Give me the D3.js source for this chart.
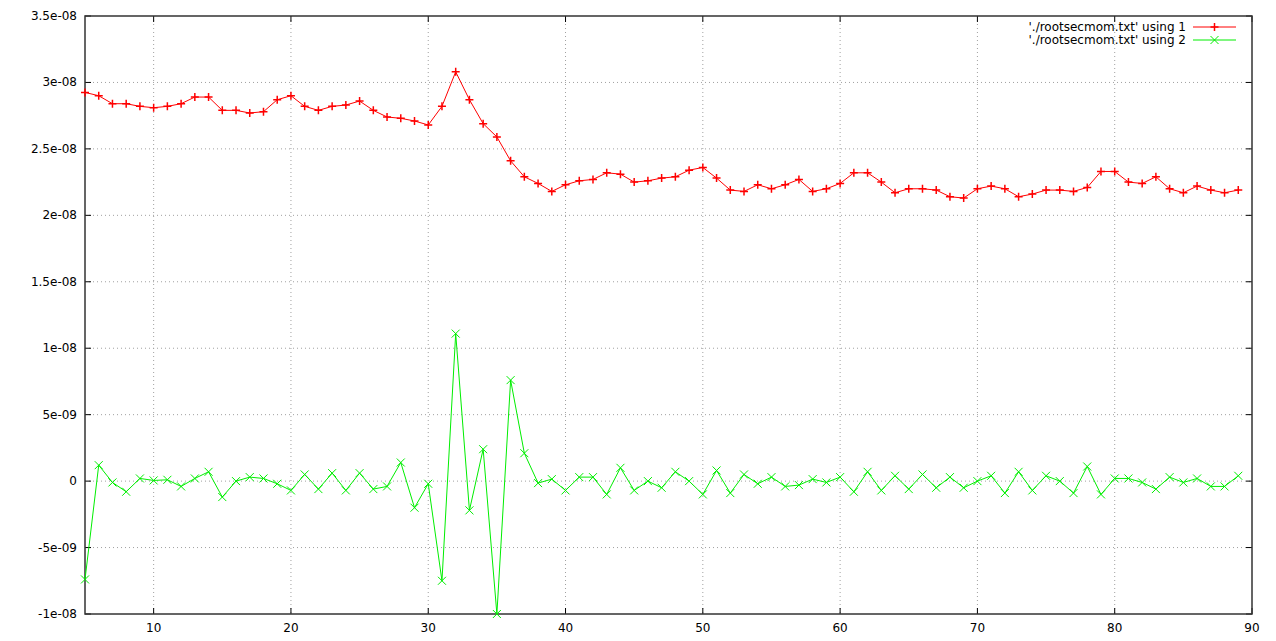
<!DOCTYPE html>
<html><head><meta charset="utf-8">
<script src="https://cdn.jsdelivr.net/npm/d3@7"></script>
<style>body{margin:0;background:#fff}svg{display:block}text{font-family:"DejaVu Sans",sans-serif;font-size:12px;fill:#000}</style>
</head><body><svg id="c" width="1276" height="641"></svg>
<script>
const xStart = 5;
const series1 = [2.925,2.90,2.84,2.84,2.82,2.81,2.82,2.84,2.89,2.89,2.79,2.79,2.77,2.78,2.87,2.90,2.82,2.79,2.82,2.83,2.86,2.79,2.74,2.73,2.71,2.68,2.82,3.08,2.87,2.69,2.59,2.41,2.29,2.24,2.18,2.23,2.26,2.27,2.32,2.31,2.25,2.26,2.28,2.29,2.34,2.36,2.28,2.19,2.18,2.23,2.20,2.23,2.27,2.18,2.20,2.24,2.32,2.32,2.25,2.17,2.20,2.20,2.19,2.14,2.13,2.20,2.22,2.20,2.14,2.16,2.19,2.19,2.18,2.21,2.33,2.33,2.25,2.24,2.29,2.20,2.17,2.22,2.19,2.17,2.19];
const series2 = [-0.74,0.12,-0.01,-0.08,0.02,0.005,0.01,-0.04,0.02,0.07,-0.12,0,0.03,0.02,-0.02,-0.07,0.05,-0.06,0.06,-0.07,0.06,-0.06,-0.04,0.14,-0.20,-0.02,-0.75,1.11,-0.22,0.24,-1.0,0.76,0.21,-0.015,0.015,-0.07,0.03,0.03,-0.10,0.10,-0.07,0,-0.05,0.07,0,-0.10,0.08,-0.09,0.05,-0.02,0.03,-0.04,-0.03,0.015,-0.01,0.03,-0.08,0.07,-0.07,0.04,-0.06,0.05,-0.05,0.03,-0.05,0,0.04,-0.09,0.07,-0.07,0.04,0,-0.09,0.11,-0.10,0.02,0.02,-0.01,-0.06,0.03,-0.01,0.02,-0.04,-0.04,0.04];
const seriesNames = ["'./rootsecmom.txt' using 1","'./rootsecmom.txt' using 2"];
const xTicks = [10,20,30,40,50,60,70,80,90];
const yTicks = [-1e-8,-5e-9,0,5e-9,1e-8,1.5e-8,2e-8,2.5e-8,3e-8,3.5e-8];
const yTickLabels = ["-1e-08","-5e-09","0","5e-09","1e-08","1.5e-08","2e-08","2.5e-08","3e-08","3.5e-08"];

const svg = d3.select("#c");
const L=85,R=1252,T=16,B=614;
const x = d3.scaleLinear().domain([5,90]).range([L,R]);
const y = d3.scaleLinear().domain([-1e-8,3.5e-8]).range([B,T]);
const g = svg.append("g");
xTicks.forEach(t=>{ if(t<90) g.append("line").attr("x1",x(t)).attr("x2",x(t)).attr("y1",T).attr("y2",B).attr("stroke","#a0a0a0").attr("stroke-dasharray","1,3"); });
yTicks.forEach(t=>{ if(t>-1e-8 && t<3.5e-8) g.append("line").attr("x1",L).attr("x2",R).attr("y1",y(t)).attr("y2",y(t)).attr("stroke","#a0a0a0").attr("stroke-dasharray","1,3"); });
xTicks.forEach(t=>{ g.append("line").attr("x1",x(t)).attr("x2",x(t)).attr("y1",B).attr("y2",B-6).attr("stroke","#000");
  g.append("line").attr("x1",x(t)).attr("x2",x(t)).attr("y1",T).attr("y2",T+6).attr("stroke","#000");
  g.append("text").attr("x",x(t)).attr("y",B+18).attr("text-anchor","middle").text(t); });
yTicks.forEach((t,i)=>{ g.append("line").attr("x1",L).attr("x2",L+6).attr("y1",y(t)).attr("y2",y(t)).attr("stroke","#000");
  g.append("line").attr("x1",R).attr("x2",R-6).attr("y1",y(t)).attr("y2",y(t)).attr("stroke","#000");
  g.append("text").attr("x",L-8).attr("y",y(t)+4).attr("text-anchor","end").text(yTickLabels[i]); });
g.append("rect").attr("x",L).attr("y",T).attr("width",R-L).attr("height",B-T).attr("fill","none").attr("stroke","#333").attr("stroke-width",1.5);

const colors=["#ff0000","#00ee00"];
const mk1=(s,px,py)=>s.append("path").attr("d",`M${px-4},${py}H${px+4}M${px},${py-4}V${py+4}`).attr("stroke-width",1.5);
const mk2=(s,px,py)=>s.append("path").attr("d",`M${px-4},${py-4}L${px+4},${py+4}M${px-4},${py+4}L${px+4},${py-4}`);
const mks=[mk1,mk2];
[series1,series2].forEach((s,k)=>{
  const pts=s.map((v,i)=>[x(xStart+i),y(v*1e-8)]);
  const sg=svg.append("g").attr("stroke",colors[k]).attr("fill","none");
  sg.append("path").attr("d",d3.line()(pts)).attr("stroke-width",1);
  pts.forEach(p=>mks[k](sg,p[0],p[1]));
  const ly=27+k*13;
  svg.append("text").attr("x",1186).attr("y",ly+4).attr("text-anchor","end").text(seriesNames[k]);
  sg.append("line").attr("x1",1193).attr("x2",1236).attr("y1",ly).attr("y2",ly);
  mks[k](sg,1214.5,ly);
});
</script></body></html>
